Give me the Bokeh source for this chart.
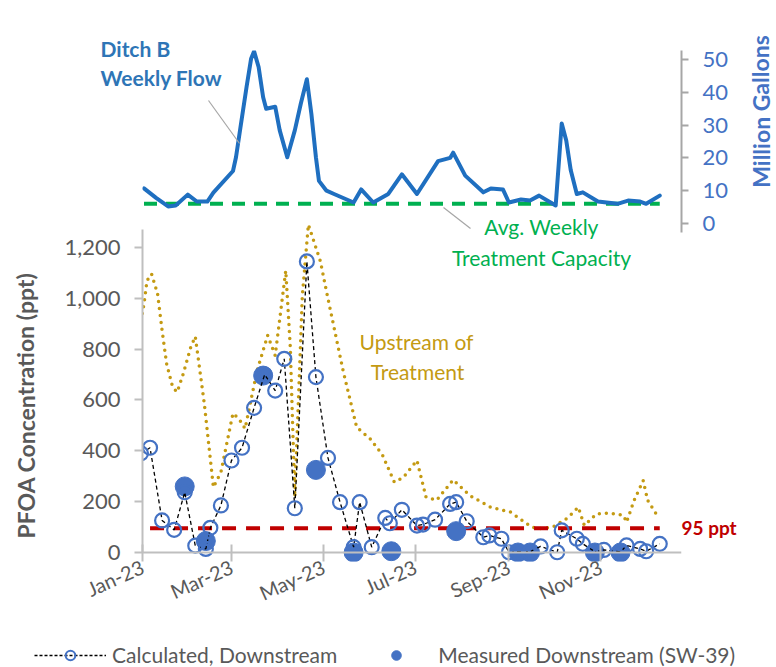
import pandas as pd
from bokeh.plotting import figure
from bokeh.layouts import column, row
from bokeh.models import (Range1d, LinearAxis, FixedTicker, DatetimeTickFormatter,
                          NumeralTickFormatter, Label, Legend, LegendItem, Arrow, Span)
from bokeh.embed import file_html
from bokeh.resources import INLINE

# ---------------- data ----------------
flow_dates = ["2023-01-02", "2023-01-10", "2023-01-18", "2023-01-23", "2023-01-31",
              "2023-02-06", "2023-02-13", "2023-02-17", "2023-03-02", "2023-03-04",
              "2023-03-07", "2023-03-11", "2023-03-14", "2023-03-16", "2023-03-19",
              "2023-03-22", "2023-03-24", "2023-03-30", "2023-04-02", "2023-04-07",
              "2023-04-12", "2023-04-16", "2023-04-20", "2023-04-23", "2023-04-26",
              "2023-04-28", "2023-05-03", "2023-05-08", "2023-05-21", "2023-05-26",
              "2023-06-03", "2023-06-13", "2023-06-22", "2023-07-02", "2023-07-16",
              "2023-07-24", "2023-07-26", "2023-08-03", "2023-08-15", "2023-08-20",
              "2023-08-28", "2023-09-01", "2023-09-09", "2023-09-15", "2023-09-21",
              "2023-10-02", "2023-10-06", "2023-10-09", "2023-10-12", "2023-10-16",
              "2023-10-20", "2023-10-30", "2023-11-12", "2023-11-19", "2023-11-27",
              "2023-12-01", "2023-12-10"]
flow_mg = [10.7, 7.8, 5.2, 5.5, 8.8, 6.7, 6.7, 9.4, 16, 20.2,
           29.4, 41.6, 50.2, 52.5, 47.7, 38.5, 35, 35.6, 28.4, 20.2,
           28.4, 36.6, 44, 33.4, 20.2, 13, 10, 9, 6.4, 10.4,
           6.4, 9, 15, 9, 19, 20, 21.6, 14.6, 9.5, 10.7,
           10.4, 6.4, 7.3, 7, 8.5, 5.5, 30.5, 25.3, 16.2, 9,
           9.5, 6.7, 6, 7, 6.7, 6, 8.5]
capacity_mg = 6.0

calc_dates = ["2022-12-31", "2023-01-06", "2023-01-14", "2023-01-22", "2023-01-29",
              "2023-02-05", "2023-02-12", "2023-02-15", "2023-02-22", "2023-03-01",
              "2023-03-08", "2023-03-16", "2023-03-23", "2023-03-30", "2023-04-05",
              "2023-04-12", "2023-04-20", "2023-04-26", "2023-05-04", "2023-05-12",
              "2023-05-21", "2023-05-25", "2023-06-02", "2023-06-11", "2023-06-14",
              "2023-06-22", "2023-07-02", "2023-07-06", "2023-07-14", "2023-07-24",
              "2023-07-28", "2023-08-04", "2023-08-15", "2023-08-19", "2023-08-27",
              "2023-09-01", "2023-09-07", "2023-09-15", "2023-09-22", "2023-10-03",
              "2023-10-06", "2023-10-16", "2023-10-20", "2023-10-28", "2023-11-03",
              "2023-11-14", "2023-11-18", "2023-11-27", "2023-12-01", "2023-12-10"]
calc_ppt = [390, 412, 126, 89, 237, 27, 14, 97, 185, 362,
            412, 569, 700, 637, 762, 174, 1145, 690, 372, 198,
            21, 198, 21, 136, 115, 168, 106, 110, 129, 191,
            198, 123, 60, 67, 54, 1, 2, 3, 24, 1,
            87, 54, 34, 3, 10, 2, 28, 14, 5, 34]

meas_dates = ["2023-01-29", "2023-02-12", "2023-03-22", "2023-04-26", "2023-05-21",
              "2023-06-15", "2023-07-28", "2023-09-07", "2023-09-15", "2023-10-28",
              "2023-11-14"]
meas_ppt = [260, 45, 696, 325, 0, 5, 84, 0, 0, 0, 0]

up_dates = ["2022-12-31", "2023-01-02", "2023-01-04", "2023-01-07", "2023-01-11",
            "2023-01-14", "2023-01-17", "2023-01-21", "2023-01-24", "2023-01-28",
            "2023-02-02", "2023-02-05", "2023-02-11", "2023-02-17", "2023-02-22",
            "2023-03-02", "2023-03-06", "2023-03-10", "2023-03-18", "2023-03-25",
            "2023-03-30", "2023-04-06", "2023-04-09", "2023-04-12", "2023-04-17",
            "2023-04-21", "2023-04-29", "2023-05-03", "2023-05-14", "2023-05-23",
            "2023-06-01", "2023-06-09", "2023-06-17", "2023-06-23", "2023-07-02",
            "2023-07-08", "2023-07-15", "2023-07-26", "2023-08-06", "2023-08-20",
            "2023-09-02", "2023-09-13", "2023-09-19", "2023-09-30", "2023-10-10",
            "2023-10-17", "2023-10-21", "2023-10-29", "2023-11-07", "2023-11-16",
            "2023-11-18", "2023-11-23", "2023-11-29", "2023-12-02", "2023-12-09"]
up_ppt = [913, 978, 1070, 1096, 1018, 873, 742, 650, 631, 703,
          808, 850, 585, 257, 316, 548, 526, 487, 716, 854,
          775, 1109, 808, 218, 1011, 1290, 1145, 1027, 716, 493,
          447, 385, 277, 296, 362, 218, 205, 286, 224, 178,
          159, 113, 93, 100, 136, 178, 106, 152, 155, 146,
          119, 205, 283, 205, 139]

threshold_ppt = 95
ppt_ticks = [0, 200, 400, 600, 800, 1000, 1200]
flow_ticks = [0, 10, 20, 30, 40, 50]
month_ticks = ["2023-01-01", "2023-03-01", "2023-05-01", "2023-07-01", "2023-09-01", "2023-11-01"]

# ---------------- styling ----------------
FONT = "Lato"
GRAY_TXT = "#595959"
AXIS_GRAY = "#BFBFBF"
BLUE_AX = "#4472C4"
FLOW_BLUE = "#1F6FC0"
GREEN = "#00B050"
GOLD = "#C49A12"
RED = "#C00000"

t0 = pd.Timestamp("2023-01-01")
PX_PER_DAY = 1.508
FRAME_L, FRAME_R, FRAME_T, FRAME_B = 142, 681, 50, 561
W, H_MAIN, H_LEG = 776, 642, 25


def ms(ts):
    return pd.Timestamp(ts).timestamp() * 1000.0


def ax_x(px):
    # canvas-pixel position -> date (ms) (annotation placement only)
    return ms(t0 + pd.Timedelta(days=(px - 142) / PX_PER_DAY))


def ax_y(py):
    # canvas-pixel position -> ppt value (annotation placement only)
    return (552 - py) * 3.934


p = figure(width=W, height=H_MAIN, output_backend="svg", toolbar_location=None,
           x_axis_type="datetime",
           x_range=Range1d(ax_x(FRAME_L), ax_x(FRAME_R)),
           y_range=Range1d(ax_y(FRAME_B), ax_y(FRAME_T)),
           min_border_left=FRAME_L, min_border_right=W - FRAME_R, min_border_top=FRAME_T,
           min_border_bottom=H_MAIN - FRAME_B)
p.outline_line_color = None
p.grid.visible = False
p.background_fill_color = "white"
p.border_fill_color = "white"
p.extra_y_ranges = {"flow": Range1d((223 - FRAME_B) / 3.28, (223 - FRAME_T) / 3.28)}

# left axis
ya = p.yaxis[0]
ya.ticker = FixedTicker(ticks=ppt_ticks)
ya.formatter = NumeralTickFormatter(format="0,0")
ya.bounds = (0, 1270)
ya.axis_line_color = AXIS_GRAY
ya.axis_line_width = 2
ya.major_tick_line_color = AXIS_GRAY
ya.major_tick_line_width = 2
ya.major_tick_out = 8
ya.major_tick_in = 0
ya.minor_tick_line_color = None
ya.major_label_text_font = FONT
ya.major_label_text_font_size = "22px"
ya.major_label_text_color = GRAY_TXT
ya.major_label_standoff = 14

# right axis (flow)
ra = LinearAxis(y_range_name="flow", ticker=FixedTicker(ticks=flow_ticks), bounds=(-2.7, 54.3))
ra.axis_line_color = "#A6A6A6"
ra.axis_line_width = 2
ra.major_tick_line_color = "#A6A6A6"
ra.major_tick_line_width = 2
ra.major_tick_out = 7
ra.major_tick_in = 0
ra.minor_tick_line_color = None
ra.major_label_text_font = FONT
ra.major_label_text_font_size = "22px"
ra.major_label_text_color = BLUE_AX
ra.major_label_standoff = 14
p.add_layout(ra, "right")

# x axis (its rule is drawn as the zero line below)
xa = p.xaxis[0]
xa.ticker = FixedTicker(ticks=[ms(d) for d in month_ticks])
xa.formatter = DatetimeTickFormatter(days="%b-%y", months="%b-%y", years="%b-%y")
xa.major_label_orientation = 0.42
xa.axis_line_color = None
xa.major_tick_line_color = AXIS_GRAY
xa.major_tick_line_width = 2
xa.major_tick_in = 17
xa.major_tick_out = 0
xa.minor_tick_line_color = None
xa.major_label_text_font = FONT
xa.major_label_text_font_size = "20px"
xa.major_label_text_color = GRAY_TXT
xa.major_label_standoff = 4
p.add_layout(Span(location=0, dimension="width", line_color=AXIS_GRAY, line_width=2))

# ---------------- glyphs ----------------
fd = pd.to_datetime(flow_dates)
cd = pd.to_datetime(calc_dates)
md = pd.to_datetime(meas_dates)
ud = pd.to_datetime(up_dates)

p.line([fd[0], fd[-1]], [capacity_mg, capacity_mg], y_range_name="flow",
       line_color=GREEN, line_width=4, line_dash="13 9")
p.line(fd, flow_mg, y_range_name="flow", line_color=FLOW_BLUE, line_width=4,
       line_join="round", line_cap="round")

p.line(ud, up_ppt, line_color=GOLD, line_width=3.5, line_dash="0 7", line_cap="round",
       line_join="round")
p.line([cd[1], cd[-1]], [threshold_ppt, threshold_ppt], line_color=RED, line_width=4,
       line_dash="14 10")

p.scatter(md, meas_ppt, marker="circle", size=19, fill_color=BLUE_AX, line_color=BLUE_AX)
p.line(cd, calc_ppt, line_color="black", line_width=1.3, line_dash="4 3")
p.scatter(cd, calc_ppt, marker="circle", size=14, fill_alpha=0,
          line_color=BLUE_AX, line_width=2.2)

# ---------------- annotations ----------------
def make_label(text, px, py, color, size, bold=False, align="center", angle=0.0):
    return Label(x=ax_x(px), y=ax_y(py), text=text, text_color=color,
                 text_font=FONT, text_font_size=size,
                 text_font_style="bold" if bold else "normal",
                 text_align=align, text_baseline="middle", angle=angle)


p.add_layout(make_label("Avg. Weekly", 541, 226, GREEN, "21px"))
p.add_layout(make_label("Treatment Capacity", 541, 257, GREEN, "21px"))
p.add_layout(make_label("Upstream of", 416, 341, GOLD, "21px"))
p.add_layout(make_label("Treatment", 417, 371, GOLD, "21px"))

# texts reaching outside the plotting frame live in side panels (not clipped)
p.add_layout(make_label("Ditch B", 100, 48, "#2E75B6", "21px", bold=True, align="left"), "above")
p.add_layout(make_label("Weekly Flow", 100, 77, "#2E75B6", "21px", bold=True, align="left"), "above")
p.add_layout(make_label("95 ppt", 681, 527, RED, "19px", bold=True, align="left"), "below")
p.add_layout(make_label("PFOA Concentration (ppt)", 25, 405, GRAY_TXT, "23px", bold=True,
                        angle=1.5708), "left")
p.add_layout(make_label("Million Gallons", 760, 111, BLUE_AX, "23px", bold=True,
                        angle=1.5708), "right")

p.add_layout(Arrow(end=None, x_start=ax_x(208), y_start=ax_y(100), x_end=ax_x(239),
                   y_end=ax_y(143), line_color="#A6A6A6", line_width=1.2))
p.add_layout(Arrow(end=None, x_start=ax_x(443), y_start=ax_y(207), x_end=ax_x(470),
                   y_end=ax_y(228), line_color="#A6A6A6", line_width=1.2))

# ---------------- legend strip ----------------
lg = figure(width=W, height=H_LEG, output_backend="svg", toolbar_location=None,
            x_axis_type="datetime", x_axis_location=None, y_axis_location=None,
            min_border_left=0, min_border_right=0, min_border_top=0, min_border_bottom=0)
lg.outline_line_color = None
lg.grid.visible = False
lg_calc_line = lg.line(cd, calc_ppt, line_color="black", line_width=1.3, line_dash="3 2",
                       visible=False)
lg_calc_pts = lg.scatter(cd, calc_ppt, marker="circle", size=13, fill_alpha=0,
                         line_color=BLUE_AX, line_width=2, visible=False)
lg_meas = lg.scatter(md, meas_ppt, marker="circle", size=19, fill_color=BLUE_AX,
                     line_color=BLUE_AX, visible=False)
legend = Legend(items=[LegendItem(label="Calculated, Downstream",
                                  renderers=[lg_calc_line, lg_calc_pts]),
                       LegendItem(label="Measured Downstream (SW-39)", renderers=[lg_meas])],
                orientation="horizontal", location=(34, 0),
                glyph_width=72, glyph_height=24, label_standoff=6, spacing=23,
                padding=0, margin=0, border_line_color=None, background_fill_alpha=0,
                inactive_fill_alpha=0,
                label_text_font=FONT, label_text_font_size="21px",
                label_text_color=GRAY_TXT)
lg.add_layout(legend)

open("out.html", "w").write(file_html(column(p, row(lg)), INLINE))
